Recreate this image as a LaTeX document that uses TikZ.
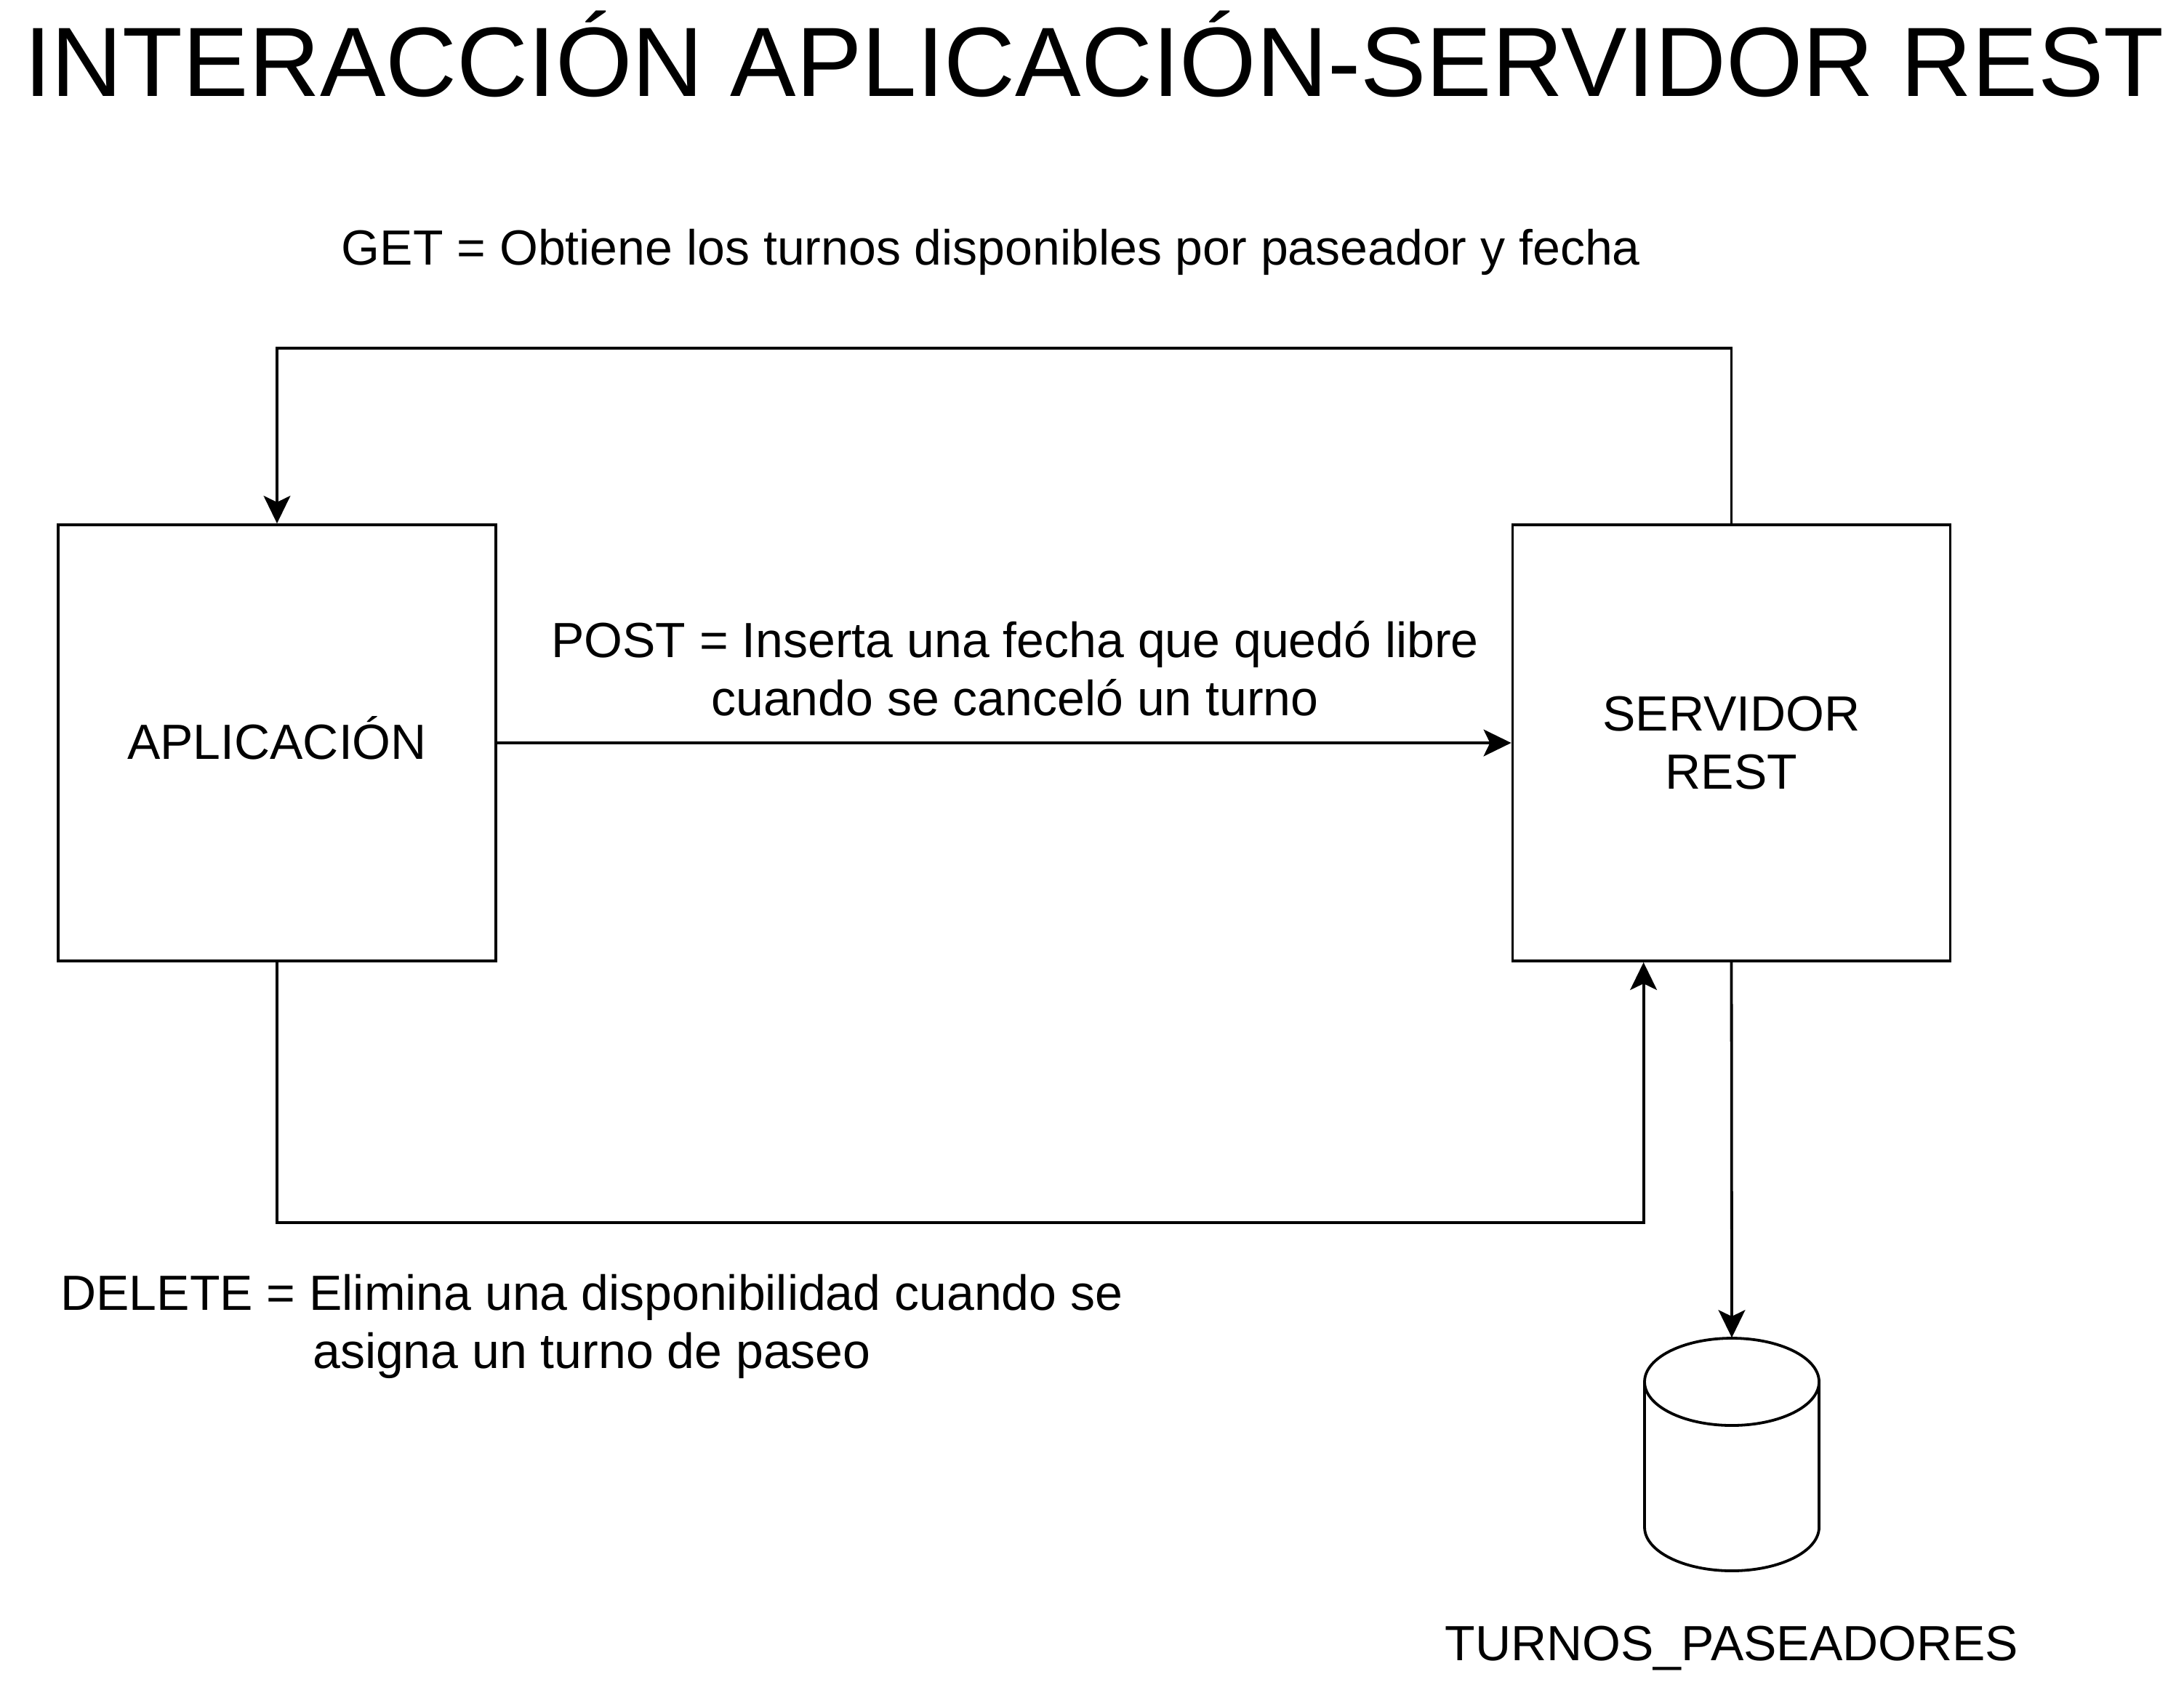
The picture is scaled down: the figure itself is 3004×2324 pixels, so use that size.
\documentclass[tikz,border=0pt]{standalone}
\usepackage{fontspec}
\setmainfont{Liberation Sans}
\usetikzlibrary{arrows.meta}
\begin{document}
\begin{tikzpicture}[x=0.25pt,y=-0.25pt,
  every node/.style={font=\fontsize{17}{20}\selectfont, inner sep=0pt},
  box/.style={draw, line width=0.95pt, minimum width=150.5pt, minimum height=150pt, align=center},
  conn/.style={line width=0.95pt},
  arr/.style={conn, -{Stealth[length=9.5pt,width=9.2pt,inset=2.2pt]}},
  lbl/.style={align=center}]
\fill[white] (0,0) rectangle (3004,2324);
\useasboundingbox (0,0) rectangle (3004,2324);

% title
\node[anchor=base, font=\fontsize{33.9}{40}\selectfont] (title) at (1505,132) {INTERACCIÓN APLICACIÓN-SERVIDOR REST};

% boxes
\node[box, text height=11pt, text depth=0pt] (app) at (381,1022) {APLICACIÓN};
\node[box] (srv) at (2381.5,1022) {SERVIDOR\\REST};

% database cylinder
\node[minimum width=60pt, minimum height=80pt] (db) at (2382,2001) {};
\draw[conn] (2262,1901) -- (2262,2101) arc[start angle=180, end angle=360, x radius=30pt, y radius=15pt] -- (2502,1901);
\draw[conn] (2382,1901) ellipse[x radius=30pt, y radius=15pt];
\node[anchor=base] (dblbl) at (2382,2284) {TURNOS\_PASEADORES};

% labels
\node[anchor=base] (getlbl) at (1363,364) {GET = Obtiene los turnos disponibles por paseador y fecha};
\node[lbl] (postlbl) at (1396,920) {POST = Inserta una fecha que quedó libre\\cuando se canceló un turno};
\node[lbl] (dellbl) at (814,1825) {DELETE = Elimina una disponibilidad cuando se\\asigna un turno de paseo};

% connectors
\draw[arr] (srv.north) -- ++(0,-241) -| (app.north);
\draw[arr] (app.east) -- (srv.west);
\draw[arr] (app.south) -- ++(0,358) -| ([xshift=45.5pt]srv.south west);
\draw[arr] (srv.south) -- (db.north);
\end{tikzpicture}
\end{document}
